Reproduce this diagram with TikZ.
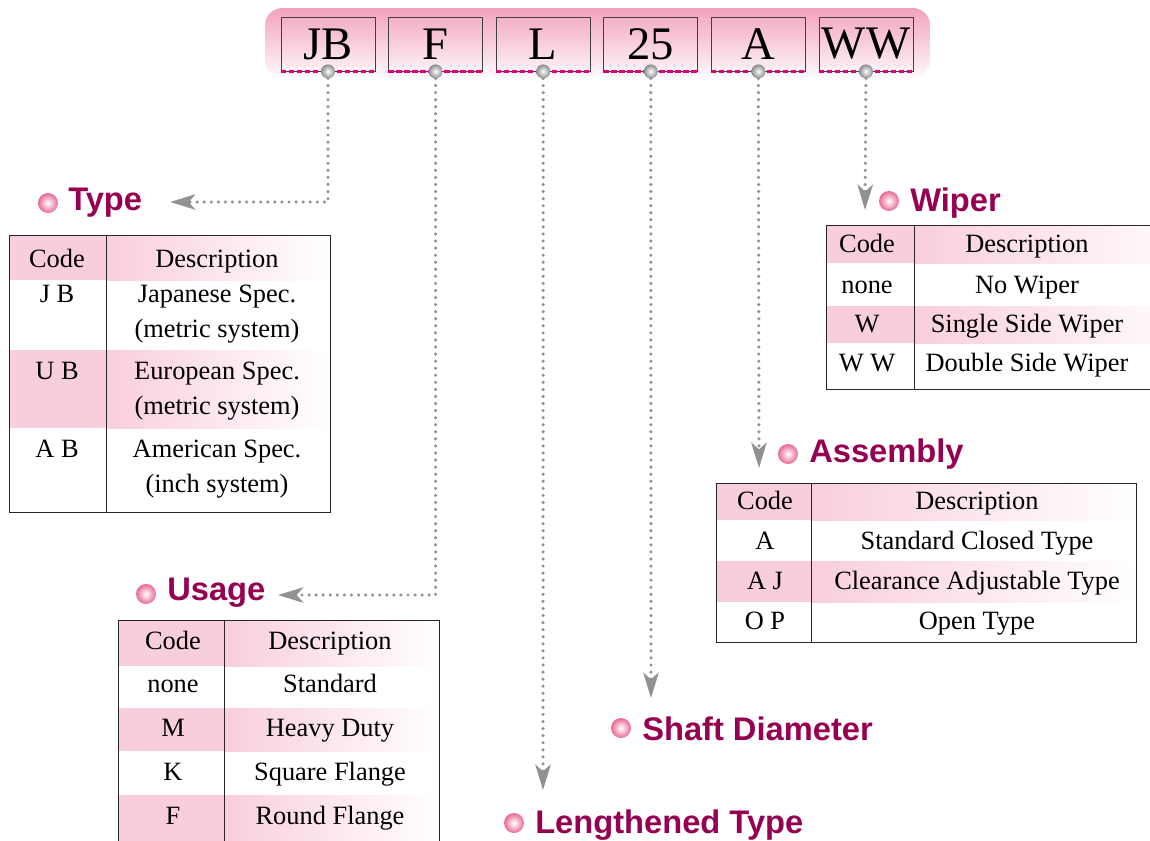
\documentclass[tikz,border=0pt]{standalone}
\usepackage{fontspec}
\setmainfont{Liberation Serif}
\setsansfont{Liberation Sans}
\usetikzlibrary{arrows.meta}

\definecolor{headred}{RGB}{150,0,80}
\definecolor{cellpink}{RGB}{249,206,219}
\definecolor{barpink}{RGB}{242,162,188}
\definecolor{dashpink}{RGB}{226,0,122}
\definecolor{leadgray}{RGB}{145,145,145}
\definecolor{ballpink}{RGB}{232,105,150}

\begin{document}
\begin{tikzpicture}[x=0.75pt,y=0.75pt,yscale=-1,xscale=1,
  codebox/.style={draw=black!75,line width=0.6pt,minimum width=70.5pt,minimum height=40.5pt,inner sep=0pt,font=\fontsize{35}{40}\selectfont},
  boxdash/.style={dashpink,line width=2pt,dash pattern=on 4pt off 2pt},
  head/.style={anchor=base west,inner sep=0pt,text=headred,font=\sffamily\bfseries\fontsize{24.5}{28}\selectfont},
  cell/.style={inner sep=0pt,text height=1.1em,text depth=0.05em,font=\fontsize{19.8}{23}\selectfont},
  lead/.style={leadgray,line width=2.6pt,line cap=round,dash pattern=on 0pt off 5.3pt,-{Stealth[length=19pt,width=11.5pt,inset=5pt]}},
  tabline/.style={black!85,line width=0.75pt},
  pinkball/.style={inner color=white,outer color=ballpink},
  grayball/.style={inner color=white,outer color=black!45}]
\useasboundingbox (0,0) rectangle (1150,840);

%Shape: Rounded Rect [id:bar]
\shade [top color=barpink,bottom color=barpink!6,rounded corners=13pt] (265,8) rectangle (930,77) ;

% Code boxes
\foreach \t/\n [count=\i from 0] in {JB/jb,F/f,L/l,25/dia,A/asm,WW/wp} {
  \node [codebox] (\n) at (328+107.6*\i,44) {\t};
  \draw [boxdash] (\n.south west) -- (\n.south east) ;
}

% Arrow ends
\coordinate (typetip) at (170,202);
\coordinate (usagetip) at (278,595);
\coordinate (lentip) at (543,790);
\coordinate (diatip) at (651,698);
\coordinate (asmtip) at (759,468);
\coordinate (wptip) at (865,210);

%Straight Lines [id:leads]
\draw [lead] (jb.south) |- (typetip) ;
\draw [lead] (f.south) |- (usagetip) ;
\draw [lead] (l.south) -- (lentip) ;
\draw [lead] (dia.south) -- (diatip) ;
\draw [lead] (asm.south) -- (asmtip) ;
\draw [lead] (wp.south) -- (wptip) ;
\foreach \n in {jb,f,l,dia,asm,wp}
  \shade [grayball] (\n.south) circle (7) ;

% Headings
\shade [pinkball] (48,203) circle (10) ;
\node [head] (typehead) at (68,210) {Type};
\shade [pinkball] (146,594) circle (10) ;
\node [head] (usagehead) at (167,600) {Usage};
\shade [pinkball] (514,823) circle (10) ;
\node [head] (lenhead) at (535,833) {Lengthened Type};
\shade [pinkball] (621,728) circle (10) ;
\node [head] (diahead) at (642,740) {Shaft Diameter};
\shade [pinkball] (788,454) circle (10) ;
\node [head] (asmhead) at (809,462) {Assembly};
\shade [pinkball] (889,201) circle (10) ;
\node [head] (wphead) at (910,211) {Wiper};

%Table: Type
\foreach \ya/\yb in {235/280,350/428} {
  \fill [cellpink] (9,\ya) rectangle (106,\yb) ;
  \shade [left color=cellpink,right color=white] (106,\ya) rectangle (330,\yb) ;
}
\node [cell] (tcode) at (57,260) {Code};
\node [cell] (tdesc) at (217,260) {Description};
\foreach \y/\c/\da/\db [count=\i] in {295/J B/Japanese Spec./(metric system),372/U B/European Spec./(metric system),450/A B/American Spec./(inch system)} {
  \node [cell] (tc\i) at (57,\y) {\c};
  \node [cell] (td\i) at (217,\y) {\da};
  \node [cell] (te\i) at (217,\y+35) {\db};
}
\draw [tabline] (9,235) rectangle (330,512) ;
\draw [tabline] (106,235) -- (106,512) ;

%Table: Wiper
\foreach \ya/\yb in {225/263,306/343} {
  \fill [cellpink] (826,\ya) rectangle (914,\yb) ;
  \shade [left color=cellpink,right color=white] (914,\ya) rectangle (1190,\yb) ;
}
\node [cell] (wcode) at (867,245) {Code};
\node [cell] (wdesc) at (1027,245) {Description};
\foreach \y/\c/\d [count=\i] in {286/none/No Wiper,325/W/Single Side Wiper,364/W W/Double Side Wiper} {
  \node [cell] (wc\i) at (867,\y) {\c};
  \node [cell] (wd\i) at (1027,\y) {\d};
}
\draw [tabline] (826,225) rectangle (1190,389) ;
\draw [tabline] (914,225) -- (914,389) ;

%Table: Assembly
\foreach \ya/\yb in {483/520,561/602} {
  \fill [cellpink] (716,\ya) rectangle (811,\yb) ;
  \shade [left color=cellpink,right color=white] (811,\ya) rectangle (1136,\yb) ;
}
\node [cell] (acode) at (765,502) {Code};
\node [cell] (adesc) at (977,502) {Description};
\foreach \y/\c/\d [count=\i] in {542/A/Standard Closed Type,582/A J/Clearance Adjustable Type,622/O P/Open Type} {
  \node [cell] (ac\i) at (765,\y) {\c};
  \node [cell] (ad\i) at (977,\y) {\d};
}
\draw [tabline] (716,483) rectangle (1136,642) ;
\draw [tabline] (811,483) -- (811,642) ;

%Table: Usage
\foreach \ya/\yb in {620/666,708/751,795/850} {
  \fill [cellpink] (118,\ya) rectangle (224,\yb) ;
  \shade [left color=cellpink,right color=white] (224,\ya) rectangle (439,\yb) ;
}
\node [cell] (ucode) at (173,642) {Code};
\node [cell] (udesc) at (330,642) {Description};
\foreach \y/\c/\d [count=\i] in {685/none/Standard,729/M/Heavy Duty,773/K/Square Flange,817/F/Round Flange} {
  \node [cell] (uc\i) at (173,\y) {\c};
  \node [cell] (ud\i) at (330,\y) {\d};
}
\draw [tabline] (118,620) rectangle (439,850) ;
\draw [tabline] (224,620) -- (224,850) ;

\end{tikzpicture}
\end{document}
